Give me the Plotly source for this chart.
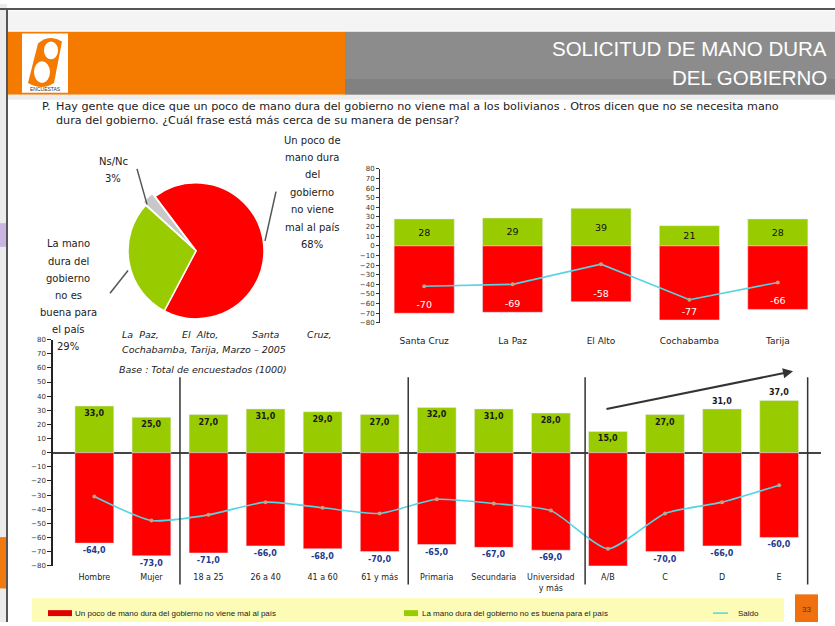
import plotly.graph_objects as go

W, H = 835, 626

# ---------------- DATA ----------------
pie_labels = ["Un poco de mano dura del gobierno no viene mal al país",
              "La mano dura del gobierno no es buena para el país",
              "Ns/Nc"]
pie_values = [68, 29, 3]

cities = ["Santa Cruz", "La Paz", "El Alto", "Cochabamba", "Tarija"]
city_no_buena = [28, 29, 39, 21, 28]
city_no_mal = [-70, -69, -58, -77, -66]
city_saldo = [-42, -40, -19, -56, -38]

segments = ["Hombre", "Mujer", "18 a 25", "26 a 40", "41 a 60", "61 y más",
            "Primaria", "Secundaria", "Universidad<br>y más", "A/B", "C", "D", "E"]
seg_no_buena = [33, 25, 27, 31, 29, 27, 32, 31, 28, 15, 27, 31, 37]
seg_no_mal = [-64, -73, -71, -66, -68, -70, -65, -67, -69, -83, -70, -66, -60]
seg_saldo = [-31, -48, -44, -35, -39, -43, -33, -36, -41, -68, -43, -35, -23]
seg_no_buena_text = ["33,0", "25,0", "27,0", "31,0", "29,0", "27,0", "32,0",
                     "31,0", "28,0", "15,0", "27,0", "31,0", "37,0"]
seg_no_mal_text = ["-64,0", "-73,0", "-71,0", "-66,0", "-68,0", "-70,0", "-65,0",
                   "-67,0", "-69,0", "", "-70,0", "-66,0", "-60,0"]

y_tickvals = list(range(-80, 81, 10))

title_lines = ["SOLICITUD DE MANO DURA", "DEL GOBIERNO"]
question_lines = ["Hay gente que dice que un poco de mano dura del gobierno no viene mal a los bolivianos . Otros dicen que no se necesita mano",
                  "dura del gobierno. ¿Cuál frase está más cerca de su manera de pensar?"]
red_label_lines = ["Un poco de", "mano dura", "del", "gobierno", "no viene", "mal al país", "68%"]
green_label_lines = ["La mano", "dura del", "gobierno", "no es", "buena para", "el país", "29%"]
ns_label_lines = ["Ns/Nc", "3%"]
note_words = ["La  Paz,", "El  Alto,", "Santa", "Cruz,"]
note_line2 = "Cochabamba, Tarija, Marzo – 2005"
base_line = "Base : Total de encuestados (1000)"
legend_names = ["Un poco de mano dura del gobierno no viene mal al país",
                "La mano dura del gobierno no es buena para el país",
                "Saldo"]
page_number = "33"

# ---------------- STYLE ----------------
RED = "#FF0000"
GREEN = "#99CC00"
GRAY = "#C8C8C8"
CYAN = "#55D4E4"
MARK = "#C9A27E"
NAVY = "#1F3A8F"
FONT = "DejaVu Sans"


def X(px):
    return px / W


def Y(py):
    return 1 - py / H


fig = go.Figure()

# Pie
fig.add_trace(go.Pie(
    labels=pie_labels, values=pie_values, sort=False, direction="clockwise",
    rotation=323, textinfo="none", pull=[0, 0, 0.06],
    marker=dict(colors=[RED, GREEN, GRAY], line=dict(color="white", width=1.5)),
    domain=dict(x=[X(123), X(269)], y=[Y(323), Y(177)]),
    showlegend=False, hoverinfo="label+percent"))

# Top chart (cities)
fig.add_trace(go.Bar(x=cities, y=city_no_buena, marker_color=GREEN, name=legend_names[1],
                     text=[str(v) for v in city_no_buena], textposition="inside",
                     insidetextanchor="middle", textfont=dict(color="#111", size=9.5, family=FONT),
                     xaxis="x", yaxis="y", showlegend=False))
fig.add_trace(go.Bar(x=cities, y=city_no_mal, marker_color=RED, name=legend_names[0],
                     text=[str(v) for v in city_no_mal], textposition="inside",
                     insidetextanchor="end", textfont=dict(color="white", size=9.5, family=FONT),
                     xaxis="x", yaxis="y", showlegend=False))
fig.add_trace(go.Scatter(x=cities, y=city_saldo, mode="lines+markers", name=legend_names[2],
                         line=dict(color=CYAN, width=1.6),
                         marker=dict(color=MARK, size=4),
                         xaxis="x", yaxis="y", showlegend=False))

# Bottom chart (segments)
no_buena_pos = ["inside"] * 11 + ["outside", "outside"]
fig.add_trace(go.Bar(x=segments, y=seg_no_buena, marker_color=GREEN, name=legend_names[1],
                     text=seg_no_buena_text, textposition=no_buena_pos,
                     insidetextanchor="end",
                     textfont=dict(color="#1a1a1a", size=8, family=FONT, weight="bold"),
                     xaxis="x2", yaxis="y2", showlegend=False, cliponaxis=False))
fig.add_trace(go.Bar(x=segments, y=seg_no_mal, marker_color=RED, name=legend_names[0],
                     text=seg_no_mal_text, textposition="outside",
                     textfont=dict(color=NAVY, size=8, family=FONT, weight="bold"),
                     xaxis="x2", yaxis="y2", showlegend=False, cliponaxis=False))
fig.add_trace(go.Scatter(x=segments, y=seg_saldo, mode="lines+markers", name=legend_names[2],
                         line=dict(color=CYAN, width=1.6, shape="spline", smoothing=0.6),
                         marker=dict(color=MARK, size=4),
                         xaxis="x2", yaxis="y2", showlegend=False))

tickfont = dict(family=FONT, size=7, color="#333")

fig.update_layout(
    width=W, height=H, autosize=False,
    margin=dict(l=0, r=0, t=0, b=0),
    paper_bgcolor="white", plot_bgcolor="rgba(0,0,0,0)",
    barmode="relative", bargap=0.32,
    font=dict(family=FONT, color="#222"),
    xaxis=dict(domain=[X(380), X(822)], showline=False, showgrid=False, zeroline=False,
               ticks="outside", ticklen=9, tickcolor="rgba(0,0,0,0)",
               tickfont=dict(family=FONT, size=9, color="#222"),
               anchor="y", fixedrange=True),
    yaxis=dict(domain=[Y(323), Y(167)], range=[-80, 80], tickvals=y_tickvals,
               showline=True, linecolor="#333", linewidth=1, ticks="outside", ticklen=3,
               tickcolor="#333", showgrid=False, zeroline=False, tickfont=tickfont,
               anchor="x", fixedrange=True),
    xaxis2=dict(domain=[X(53), X(820.5)], showline=False, showgrid=False, zeroline=False,
                ticks="outside", ticklen=4, tickcolor="rgba(0,0,0,0)",
                tickfont=dict(family=FONT, size=8, color="#222"),
                anchor="y2", fixedrange=True),
    yaxis2=dict(domain=[Y(569), Y(340)], range=[-80, 80], tickvals=y_tickvals,
                showline=True, linecolor="#222", linewidth=1.5, ticks="outside", ticklen=4,
                tickcolor="#222", showgrid=False, zeroline=True, zerolinecolor="#444",
                zerolinewidth=1.5, tickfont=tickfont, anchor="x2", fixedrange=True),
)

shapes = []


def rect(x0, y0, x1, y1, color, layer="below"):
    shapes.append(dict(type="rect", xref="paper", yref="paper",
                       x0=X(x0), x1=X(x1), y0=Y(y1), y1=Y(y0),
                       fillcolor=color, layer=layer, line=dict(width=0)))


def pline(x0, y0, x1, y1, color, width=1, layer="above"):
    shapes.append(dict(type="line", xref="paper", yref="paper",
                       x0=X(x0), x1=X(x1), y0=Y(y0), y1=Y(y1),
                       line=dict(color=color, width=width), layer=layer))


# slide frame / background artifacts
rect(0, 0, 7, 626, "#ECECEC")
rect(0, 222, 7, 246, "#C9B6E0")
rect(0, 540, 7, 592, "#F07A10")
rect(7, 7, 835, 27, "#F4F4F4")
pline(0, 5, 835, 5, "#555", 2)
pline(7, 5, 7, 626, "#555", 2)
# header banner
rect(7, 28, 345, 92, "#F57A00")
rect(345, 28, 835, 92, "#8C8C8C")
rect(345, 76, 835, 92, "#818181")
rect(7, 92, 835, 97, "#EDEDED")
# logo
rect(22, 30, 68, 90, "white")
shapes.append(dict(type="path", xref="paper", yref="paper",
                   path=f"M {X(28)},{Y(80)} L {X(38)},{Y(40)} Q {X(50)},{Y(30)} {X(62)},{Y(38)} "
                        f"L {X(54)},{Y(80)} Q {X(42)},{Y(88)} {X(28)},{Y(80)} Z",
                   fillcolor="#F57A00", line=dict(width=0), layer="below"))
shapes.append(dict(type="circle", xref="paper", yref="paper",
                   x0=X(34), x1=X(50), y0=Y(80), y1=Y(58), fillcolor="white",
                   line=dict(width=0), layer="below"))
shapes.append(dict(type="circle", xref="paper", yref="paper",
                   x0=X(44), x1=X(58), y0=Y(56), y1=Y(38), fillcolor="white",
                   line=dict(width=0), layer="below"))

# bottom-chart group separators
for xs in [1.5, 5.5, 8.6, 12.5]:
    shapes.append(dict(type="line", xref="x2", yref="paper", x0=xs, x1=xs,
                       y0=Y(588), y1=Y(378), line=dict(color="#333", width=1.5),
                       layer="above"))

# pie leader lines
pline(276, 190, 265, 240, "#555", 1.5)
pline(110, 293, 128, 270, "#555", 1.5)
pline(137, 167, 147, 203, "#555", 1.5)

# legend band
rect(32, 602, 784, 626, "#FCFCB6")
rect(48, 614, 72, 620, "#E00000")
rect(404, 614, 418, 620, GREEN)
pline(713, 617, 728, 617, CYAN, 1.5)
rect(795, 598, 818, 626, "#F07010")

fig.update_layout(shapes=shapes)

ann = []


def text(x, y, s, size=9, color="#222", xanchor="center", family=FONT, italic=False,
         bold=False):
    st = s
    if italic:
        st = f"<i>{st}</i>"
    if bold:
        st = f"<b>{st}</b>"
    ann.append(dict(x=X(x), y=Y(y), xref="paper", yref="paper", text=st, showarrow=False,
                    xanchor=xanchor, yanchor="middle",
                    font=dict(size=size, color=color, family=family)))


# title
text(829, 45, title_lines[0], size=20.5, color="white", xanchor="right", family="Liberation Sans")
text(829, 74, title_lines[1], size=20.5, color="white", xanchor="right", family="Liberation Sans")
text(45, 86, "ENCUESTAS", size=5, color="#333", family="Liberation Sans")
# question
text(40, 104, "P.", size=11.2, color="#222", xanchor="left")
text(54, 104, question_lines[0], size=11.2, color="#222", xanchor="left")
text(54, 118, question_lines[1], size=11.2, color="#222", xanchor="left")
# pie labels
for i, s in enumerate(red_label_lines):
    text(312, 138 + i * 17.6, s, size=10)
for i, s in enumerate(green_label_lines):
    text(68, 243 + i * 17.4, s, size=10)
for i, s in enumerate(ns_label_lines):
    text(113, 160 + i * 17, s, size=10)
# notes (justified first line)
note_x = [120, 180, 250, 305]
for xx, w in zip(note_x, note_words):
    text(xx, 335, w, size=9.5, xanchor="left", italic=True)
text(120, 350, note_line2, size=9.5, xanchor="left", italic=True)
text(117, 370, base_line, size=9.5, xanchor="left", italic=True)
# legend texts
text(73, 617, legend_names[0], size=8, xanchor="left", family="Liberation Sans")
text(420, 617, legend_names[1], size=8, xanchor="left", family="Liberation Sans")
text(736, 617, legend_names[2], size=8, xanchor="left", family="Liberation Sans")
text(806.5, 613, page_number, size=8, color="#6a2a00", family="Liberation Sans")

# trend arrow
ann.append(dict(x=X(793), y=Y(372), xref="paper", yref="paper", ax=-188, ay=38,
                showarrow=True, arrowhead=2, arrowsize=1, arrowwidth=2,
                arrowcolor="#333", text=""))

fig.update_layout(annotations=ann)

fig.write_html("out.html", config={"displayModeBar": False},
               post_script="document.body.style.margin='0';document.body.style.overflow='hidden';")
